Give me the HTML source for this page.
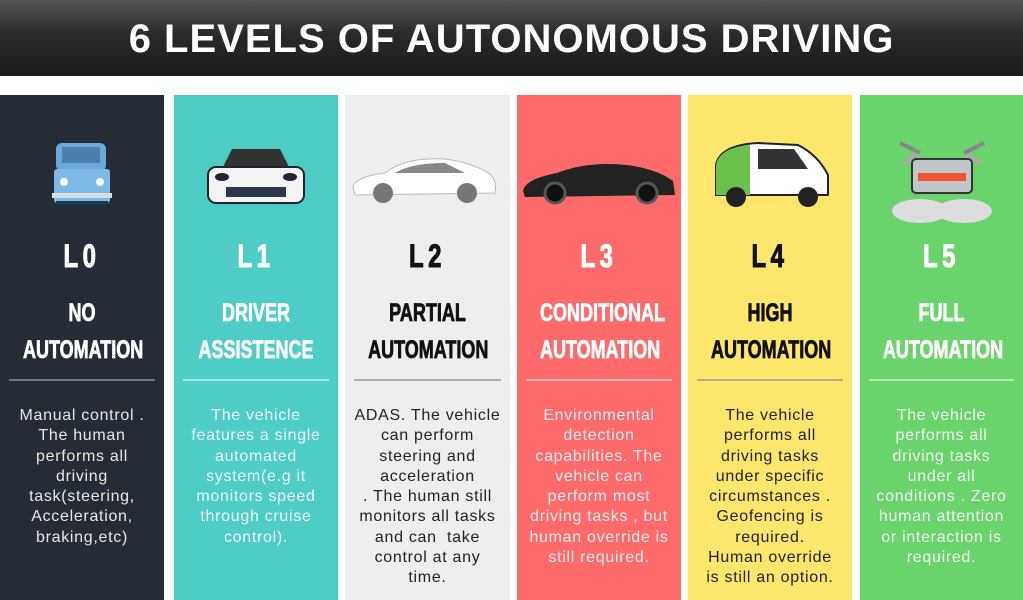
<!DOCTYPE html>
<html><head><style>
*{margin:0;padding:0;box-sizing:border-box}
body{width:1023px;height:600px;background:#fff;position:relative;overflow:hidden;font-family:"Liberation Sans",sans-serif}
.hdr{position:absolute;left:0;top:0;width:1023px;height:76px;background:linear-gradient(#555 0%,#2a2a2a 45%,#1a1a1a 100%);color:#fff;font-weight:bold;font-size:40px;text-align:center;line-height:78px;letter-spacing:1px}
.col{position:absolute;top:95px;height:505px}
.lv{position:absolute;top:143px;width:100%;text-align:center;font-weight:bold;font-size:32px;line-height:36px;transform:scaleX(0.75);letter-spacing:6px;-webkit-text-stroke:1px currentColor}
.tt{position:absolute;top:200px;width:100%;text-align:center;font-weight:bold;font-size:25px;line-height:37px;transform:scaleX(0.72);-webkit-text-stroke:0.8px currentColor}
.tt span{display:block;white-space:nowrap}
.hr{position:absolute;top:284px;left:9px;right:9px;height:2px;background:rgba(150,150,150,0.7)}
.ds{position:absolute;top:311px;left:-4px;right:-4px;text-align:center;font-size:16px;letter-spacing:0.7px;line-height:20.3px;white-space:nowrap}
.car{position:absolute;top:40px;left:0;width:100%;height:80px}
</style></head><body>
<div class="hdr">6 LEVELS OF AUTONOMOUS DRIVING</div>

<div class="col" style="left:0;width:164px;background:#252c35;color:#fff">
<svg class="car" viewBox="0 0 164 80"><g transform="translate(12,0)"><rect x="44" y="8" width="50" height="28" rx="6" fill="#6aa9d8"/><rect x="50" y="12" width="38" height="16" fill="#4a7fb0"/><rect x="42" y="34" width="56" height="34" rx="3" fill="#7db9e6"/><rect x="40" y="58" width="60" height="5" fill="#ddd"/><circle cx="52" cy="47" r="4" fill="#fff"/><circle cx="88" cy="47" r="4" fill="#fff"/><rect x="44" y="66" width="52" height="4" fill="#1a3550"/></g></svg>
<div class="lv" style="color:#fff">L0</div><div class="tt" style="color:#fff"><span>NO</span><span>AUTOMATION</span></div>
<div class="hr"></div>
<div class="ds" style="color:#e8e8e8">Manual control .<br>The human<br>performs all<br>driving<br>task(steering,<br>Acceleration,<br>braking,etc)</div></div>

<div class="col" style="left:174px;width:164px;background:#4ecdc4;color:#fff">
<svg class="car" viewBox="0 0 164 80"><path d="M48 34 L58 14 L106 14 L116 34 Z" fill="#333"/><rect x="34" y="32" width="96" height="36" rx="8" fill="#f4f4f4" stroke="#223" stroke-width="2"/><rect x="52" y="52" width="60" height="10" fill="#2b3a4a"/><ellipse cx="48" cy="42" rx="7" ry="4" fill="#223"/><ellipse cx="116" cy="42" rx="7" ry="4" fill="#223"/></svg>
<div class="lv" style="color:#fff">L1</div><div class="tt" style="color:#fff"><span>DRIVER</span><span>ASSISTENCE</span></div>
<div class="hr" style="background:rgba(255,255,255,0.5)"></div>
<div class="ds" style="color:#f0fffe">The vehicle<br>features a single<br>automated<br>system(e.g it<br>monitors speed<br>through cruise<br>control).</div></div>

<div class="col" style="left:345px;width:165px;background:#eeeeee;color:#111">
<svg class="car" viewBox="0 0 165 80"><path d="M8 52 Q10 42 40 38 Q60 22 100 24 Q130 28 146 40 Q152 46 150 58 L10 60 Z" fill="#fff" stroke="#bbb"/><path d="M50 38 Q66 28 100 28 L120 38 Z" fill="#888"/><circle cx="38" cy="58" r="10" fill="#777"/><circle cx="122" cy="58" r="10" fill="#777"/></svg>
<div class="lv" style="color:#111">L2</div><div class="tt" style="color:#111"><span>PARTIAL</span><span>AUTOMATION</span></div>
<div class="hr"></div>
<div class="ds" style="color:#222">ADAS. The vehicle<br>can perform<br>steering and<br>acceleration<br>. The human still<br>monitors all tasks<br>and can &nbsp;take<br>control at any<br>time.</div></div>

<div class="col" style="left:517px;width:164px;background:#ff6b6b;color:#fff">
<svg class="car" viewBox="0 0 164 80"><path d="M6 56 Q8 44 40 38 Q70 26 110 30 Q140 34 156 46 L158 60 L8 62 Z" fill="#222"/><circle cx="38" cy="58" r="10" fill="#111" stroke="#555" stroke-width="3"/><circle cx="130" cy="58" r="10" fill="#111" stroke="#555" stroke-width="3"/></svg>
<div class="lv" style="color:#fff">L3</div><div class="tt" style="color:#fff"><span>CONDITIONAL</span><span>AUTOMATION</span></div>
<div class="hr" style="background:rgba(255,255,255,0.5)"></div>
<div class="ds" style="color:#ffecec">Environmental<br>detection<br>capabilities. The<br>vehicle can<br>perform most<br>driving tasks , but<br>human override is<br>still required.</div></div>

<div class="col" style="left:688px;width:164px;background:#ffe66d;color:#111">
<svg class="car" viewBox="0 0 164 80"><path d="M28 60 L28 30 Q32 10 70 8 L110 10 Q130 20 140 40 L140 60 Z" fill="#fff" stroke="#222" stroke-width="2"/><path d="M28 30 Q32 12 62 10 L62 60 L28 60 Z" fill="#6ac04a"/><path d="M70 14 L106 14 L120 34 L70 34 Z" fill="#333"/><circle cx="48" cy="62" r="10" fill="#222"/><circle cx="120" cy="62" r="10" fill="#222"/></svg>
<div class="lv" style="color:#111">L4</div><div class="tt" style="color:#111"><span>HIGH</span><span>AUTOMATION</span></div>
<div class="hr"></div>
<div class="ds" style="color:#222">The vehicle<br>performs all<br>driving tasks<br>under specific<br>circumstances .<br>Geofencing is<br>required.<br>Human override<br>is still an option.</div></div>

<div class="col" style="left:860px;width:163px;background:#6bd36b;color:#fff">
<svg class="car" viewBox="0 0 163 100" style="top:28px;height:100px"><path d="M44 40 L60 30 M120 40 L104 30" stroke="#aaa" stroke-width="5"/><path d="M40 20 L60 30 M124 20 L104 30" stroke="#888" stroke-width="4"/><rect x="52" y="36" width="60" height="34" rx="4" fill="#bfc5c8" stroke="#333" stroke-width="2"/><rect x="58" y="50" width="48" height="8" fill="#e53"/><ellipse cx="60" cy="88" rx="28" ry="12" fill="#ddd"/><ellipse cx="104" cy="88" rx="28" ry="12" fill="#ddd"/></svg>
<div class="lv" style="color:#fff">L5</div><div class="tt" style="color:#fff"><span>FULL</span><span>AUTOMATION</span></div>
<div class="hr" style="background:rgba(255,255,255,0.5)"></div>
<div class="ds" style="color:#f0fff0">The vehicle<br>performs all<br>driving tasks<br>under all<br>conditions . Zero<br>human attention<br>or interaction is<br>required.</div></div>
</body></html>
